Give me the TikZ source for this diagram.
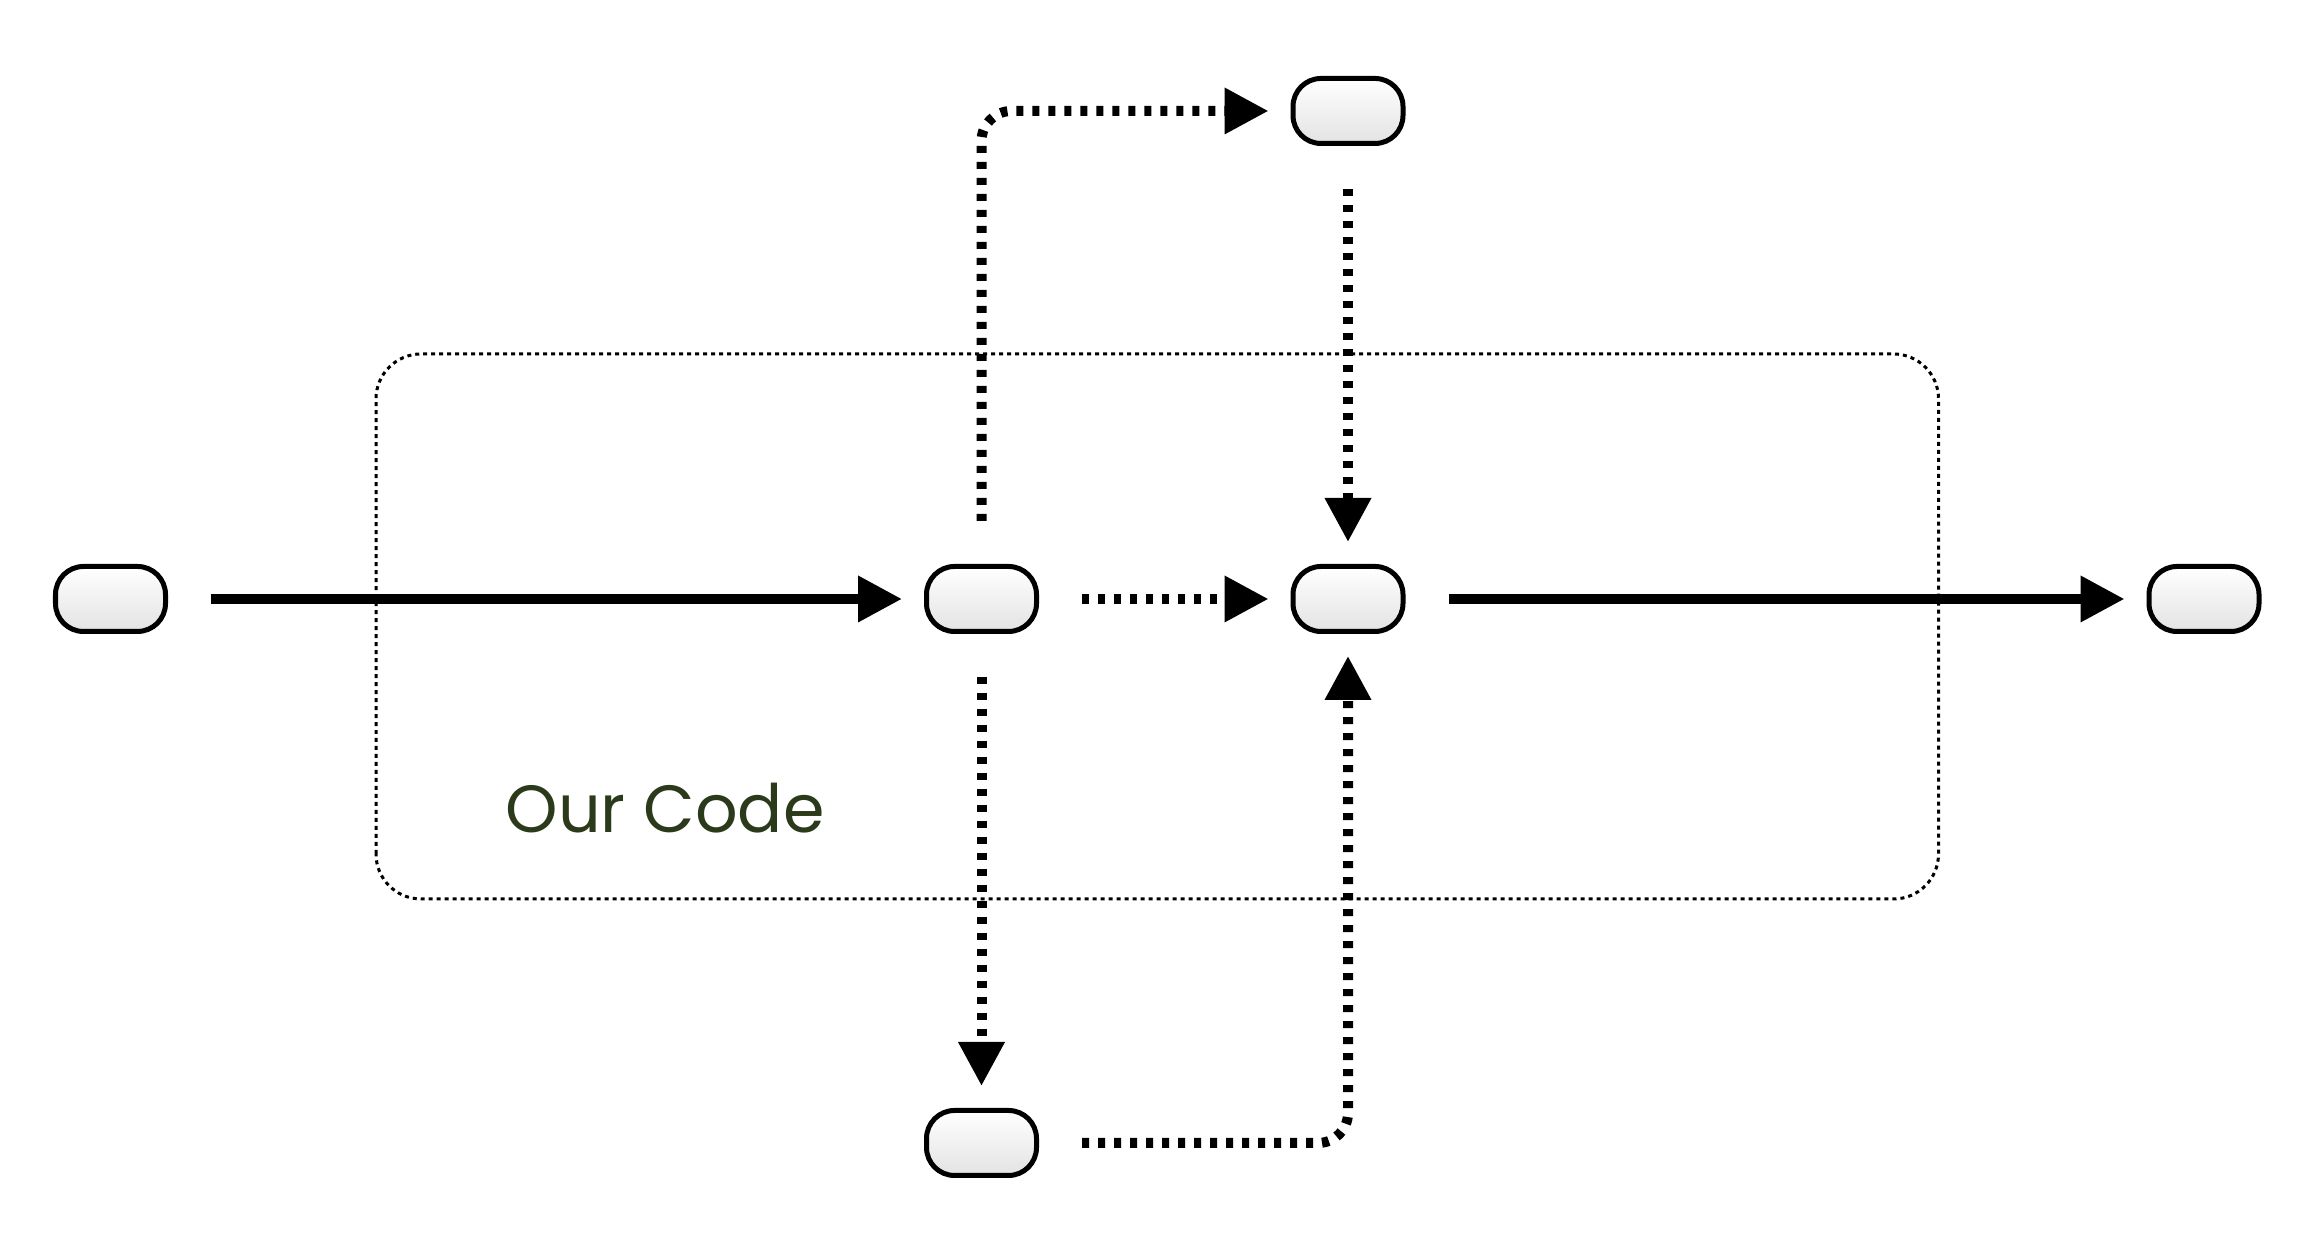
\documentclass[tikz,border=0pt]{standalone}
\usepackage{fontspec}
\newfontfamily\labelfont{Poppins}
\usetikzlibrary{arrows.meta, positioning}
\definecolor{codegreen}{HTML}{2B3A1A}

\begin{document}
\begin{tikzpicture}[>={Triangle[length=0.44cm, width=0.44cm]},
    blob/.style={draw=black, line width=0.05cm, rounded corners=0.28cm,
      minimum width=1.10cm, minimum height=0.65cm, inner sep=0pt,
      top color=white, bottom color=gray!22},
    flow/.style={->, line width=0.1cm, shorten <=0.43cm, shorten >=0.22cm},
    dotflow/.style={flow, dash pattern=on 0.07cm off 0.09cm, rounded corners=0.3cm}]
  \useasboundingbox (0,0) rectangle (23.15,12.54);

  % Boundary of our code
  \draw[line width=0.03cm, dash pattern=on 0.04cm off 0.04cm, rounded corners=0.45cm]
        (3.76,3.55) rectangle (19.385,9.00);
  \node[font=\labelfont\fontsize{19}{23}\selectfont, text=codegreen] (ourcode) at (6.65,4.46) {Our Code};

  % Nodes
  \node[blob] (src) at (1.105,6.55) {};
  \node[blob] (split) at (9.815,6.55) {};
  \node[blob] (join) at (13.48,6.55) {};
  \node[blob] (dst) at (22.04,6.55) {};
  \node[blob] (upper) at (13.48,11.43) {};
  \node[blob] (lower) at (9.815,1.11) {};

  % Main flow
  \draw[flow] (src) -- (split);
  \draw[flow] (join) -- (dst);

  % Side paths
  \draw[dotflow] (split) -- (join);
  \draw[dotflow] (split.north) |- (upper.west);
  \draw[dotflow] (upper) -- (join);
  \draw[dotflow] (split) -- (lower);
  \draw[dotflow] (lower.east) -| (join.south);
\end{tikzpicture}
\end{document}
